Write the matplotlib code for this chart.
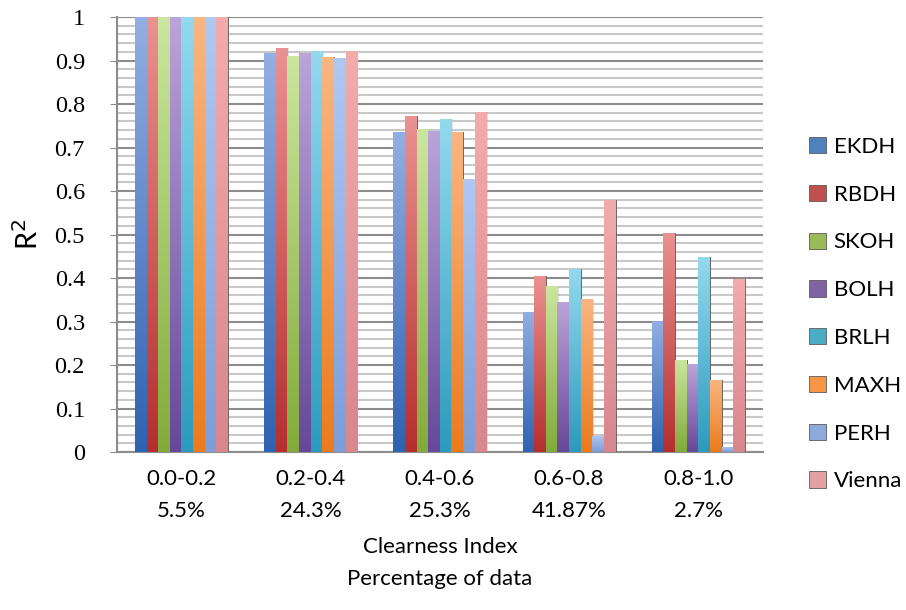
import matplotlib
matplotlib.use('Agg')
import matplotlib.pyplot as plt
import numpy as np
from matplotlib.colors import LinearSegmentedColormap

categories = ['0.0-0.2\n5.5%', '0.2-0.4\n24.3%', '0.4-0.6\n25.3%', '0.6-0.8\n41.87%', '0.8-1.0\n2.7%']
series = ['EKDH', 'RBDH', 'SKOH', 'BOLH', 'BRLH', 'MAXH', 'PERH', 'Vienna']

EKDH = [1.0, 0.917, 0.736, 0.323, 0.302]
RBDH = [1.0, 0.929, 0.772, 0.405, 0.504]
SKOH = [1.0, 0.911, 0.743, 0.382, 0.212]
BOLH = [1.0, 0.917, 0.737, 0.345, 0.202]
BRLH = [1.0, 0.922, 0.765, 0.421, 0.449]
MAXH = [1.0, 0.908, 0.736, 0.352, 0.166]
PERH = [1.0, 0.906, 0.628, 0.037, 0.012]
Vienna = [1.0, 0.923, 0.782, 0.579, 0.398]
values = [EKDH, RBDH, SKOH, BOLH, BRLH, MAXH, PERH, Vienna]

# (top, bottom) gradient colours, Excel 2007 style
colors = [('#93aee2', '#2f62b0'), ('#ea9191', '#b52f2f'), ('#cbe69e', '#82ab3b'),
          ('#baa3d9', '#67489a'), ('#93d9ee', '#2c9bbd'), ('#f9b682', '#ec7b1c'),
          ('#afc8f2', '#7d9dd8'), ('#f3abab', '#d8878c')]
legend_colors = ['#4f81bd', '#c0504d', '#9bbb59', '#8064a2', '#4bacc6', '#f79646', '#8eaadc', '#e3a0a0']

fig = plt.figure(figsize=(9.06, 6.10), dpi=100)
ax = fig.add_axes([0.129, 0.259, 0.713, 0.713])

x = np.arange(len(categories))
n = len(series)
w = 0.72 / n
grad = np.linspace(0, 1, 100).reshape(-1, 1)
for i, (name, vals) in enumerate(zip(series, values)):
    pos = x - 0.36 + w * (i + 0.5)
    bars = ax.bar(pos, vals, width=w, color=legend_colors[i], edgecolor='#5a5a5a',
                  linewidth=0.6, zorder=3, label=name)
    cmap = LinearSegmentedColormap.from_list(name, [colors[i][1], colors[i][0]])
    for b in bars:
        x0, y0, bw, bh = b.get_x(), b.get_y(), b.get_width(), b.get_height()
        im = ax.imshow(grad, extent=[x0, x0 + bw, y0, y0 + bh], origin='lower',
                       cmap=cmap, aspect='auto', zorder=3.5)
        im.set_clip_path(b)
        # soft shadow behind the bar
        ax.add_patch(plt.Rectangle((x0 + 0.01, y0), bw, bh, color='#b0b0b0',
                                   alpha=0.35, zorder=2.5, lw=0))

ax.set_xlim(-0.5, len(categories) - 0.5)
ax.set_ylim(0, 1)
ax.set_yticks(np.arange(0, 1.01, 0.1))
ax.set_yticklabels(['0', '0.1', '0.2', '0.3', '0.4', '0.5', '0.6', '0.7', '0.8', '0.9', '1'])
ax.set_yticks(np.arange(0, 1.0, 0.02), minor=True)
ax.grid(axis='y', which='major', color='#8c8c8c', linewidth=1.5, zorder=0)
ax.grid(axis='y', which='minor', color='#c8c8c8', linewidth=1.5, zorder=0)
ax.set_axisbelow(True)

ax.set_xticks(x)
ax.set_xticklabels(categories, fontfamily='Lato', fontsize=16, linespacing=1.75)
for lab in ax.get_yticklabels():
    lab.set_fontfamily('Liberation Serif')
    lab.set_fontsize(17.5)

ax.tick_params(axis='x', length=0, pad=12)
ax.tick_params(axis='y', which='major', length=5, color='#8c8c8c', pad=18)
ax.tick_params(axis='y', which='minor', length=0)
for s in ['top', 'right']:
    ax.spines[s].set_visible(False)
ax.spines['left'].set_color('#8c8c8c')
ax.spines['left'].set_linewidth(1.5)
ax.spines['bottom'].set_color('#8c8c8c')
ax.spines['bottom'].set_linewidth(1.5)

ax.set_ylabel('R$^2$', fontfamily='Lato', fontsize=21, labelpad=8)
ax.set_xlabel('Clearness Index\nPercentage of data', fontfamily='Lato', fontsize=16,
              linespacing=1.75, labelpad=12)

leg = fig.legend([plt.Rectangle((0, 0), 1, 1, fc=c, ec='#5a5a5a', lw=0.6) for c in legend_colors],
                 series, loc='center left', bbox_to_anchor=(0.871, 0.485), frameon=False,
                 prop={'family': 'Lato', 'size': 16}, handlelength=0.75, handleheight=0.75,
                 handletextpad=0.35, labelspacing=1.25)

fig.savefig('out.png', dpi=100)
